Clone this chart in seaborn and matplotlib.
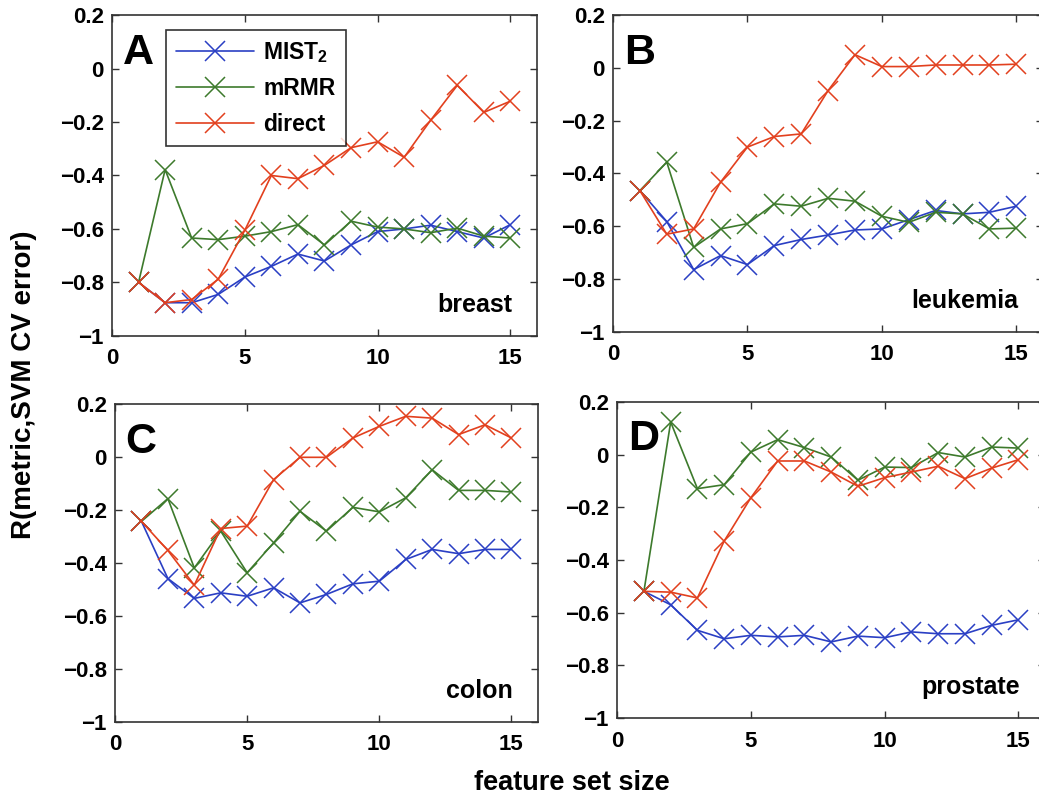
import numpy as np
import pandas as pd
import matplotlib
matplotlib.use("Agg")
import matplotlib.pyplot as plt
import seaborn as sns

sizes = list(range(1, 16))
methods = ["MIST2", "mRMR", "direct"]
legend_labels = [r"$\mathbf{MIST_2}$", "mRMR", "direct"]
datasets = ["breast", "leukemia", "colon", "prostate"]
letters = ["A", "B", "C", "D"]

breast_mist = [-0.80, -0.876, -0.876, -0.845, -0.78, -0.74, -0.694, -0.72, -0.66, -0.61, -0.60, -0.586, -0.61, -0.634, -0.584]
breast_mrmr = [-0.80, -0.378, -0.634, -0.64, -0.627, -0.61, -0.584, -0.66, -0.571, -0.593, -0.60, -0.614, -0.597, -0.627, -0.634]
breast_direct = [-0.80, -0.876, -0.864, -0.788, -0.605, -0.40, -0.412, -0.362, -0.296, -0.274, -0.332, -0.193, -0.063, -0.164, -0.122]

leuk_mist = [-0.465, -0.582, -0.764, -0.711, -0.745, -0.673, -0.65, -0.633, -0.614, -0.61, -0.575, -0.54, -0.553, -0.547, -0.524]
leuk_mrmr = [-0.465, -0.357, -0.68, -0.61, -0.59, -0.515, -0.524, -0.494, -0.505, -0.562, -0.585, -0.547, -0.553, -0.61, -0.607]
leuk_direct = [-0.465, -0.63, -0.61, -0.433, -0.30, -0.26, -0.25, -0.086, 0.05, 0.005, 0.005, 0.011, 0.011, 0.011, 0.014]

colon_mist = [-0.242, -0.458, -0.533, -0.512, -0.525, -0.493, -0.55, -0.518, -0.478, -0.468, -0.386, -0.348, -0.364, -0.348, -0.348]
colon_mrmr = [-0.242, -0.156, -0.418, -0.279, -0.436, -0.323, -0.204, -0.279, -0.189, -0.206, -0.153, -0.047, -0.125, -0.125, -0.131]
colon_direct = [-0.242, -0.352, -0.483, -0.269, -0.26, -0.084, 0.0, 0.0, 0.073, 0.117, 0.155, 0.148, 0.086, 0.123, 0.073]

prost_mist = [-0.519, -0.57, -0.667, -0.699, -0.686, -0.692, -0.686, -0.711, -0.689, -0.695, -0.673, -0.68, -0.68, -0.648, -0.627]
prost_mrmr = [-0.519, 0.124, -0.129, -0.114, 0.01, 0.057, 0.027, -0.009, -0.097, -0.047, -0.049, 0.008, -0.009, 0.029, 0.025]
prost_direct = [-0.519, -0.522, -0.544, -0.328, -0.163, -0.024, -0.024, -0.066, -0.12, -0.087, -0.066, -0.044, -0.091, -0.051, -0.019]

series = {
    "breast": [breast_mist, breast_mrmr, breast_direct],
    "leukemia": [leuk_mist, leuk_mrmr, leuk_direct],
    "colon": [colon_mist, colon_mrmr, colon_direct],
    "prostate": [prost_mist, prost_mrmr, prost_direct],
}

yticks = [-1, -0.8, -0.6, -0.4, -0.2, 0, 0.2]
ytick_labels = ["\u22121", "\u22120.8", "\u22120.6", "\u22120.4", "\u22120.2", "0", "0.2"]
xticks = [0, 5, 10, 15]
xtick_labels = ["0", "5", "10", "15"]

colors = ["#2a3fc4", "#3d7a2c", "#e2401e"]

sns.set_theme(style="white")
plt.rcParams["font.family"] = ["Liberation Sans", "DejaVu Sans"]
plt.rcParams["font.weight"] = "bold"
plt.rcParams["text.color"] = "black"
plt.rcParams["xtick.color"] = "black"
plt.rcParams["ytick.color"] = "black"
plt.rcParams["mathtext.fontset"] = "custom"
plt.rcParams["mathtext.bf"] = "Liberation Sans:bold"
plt.rcParams["mathtext.rm"] = "Liberation Sans:bold"

fig = plt.figure(figsize=(10.39, 7.94), dpi=100)
positions = [
    [0.1078, 0.577, 0.409, 0.404],
    [0.590, 0.582, 0.414, 0.399],
    [0.1107, 0.0907, 0.407, 0.400],
    [0.594, 0.0957, 0.412, 0.398],
]

for i, name in enumerate(datasets):
    ax = fig.add_axes(positions[i])
    for j, m in enumerate(methods):
        df = pd.DataFrame({"size": sizes, "R": series[name][j]})
        sns.lineplot(data=df, x="size", y="R", ax=ax, color=colors[j],
                     marker="x", markersize=15, markeredgewidth=1.1,
                     markeredgecolor=colors[j],
                     linewidth=1.2, legend=False)
    ax.set_xlim(0, 16)
    ax.set_ylim(-1, 0.2)
    ax.set_xticks(xticks)
    ax.set_xticklabels(xtick_labels)
    ax.set_yticks(yticks)
    ax.set_yticklabels(ytick_labels)
    ax.tick_params(direction="in", length=5, width=1, top=True, right=True,
                   bottom=True, left=True, labelsize=16, color="#333333",
                   labelcolor="black")
    ax.tick_params(axis="x", pad=9)
    ax.tick_params(axis="y", pad=6)
    for lab in ax.get_xticklabels() + ax.get_yticklabels():
        lab.set_fontweight("bold")
    for sp in ax.spines.values():
        sp.set_visible(True)
        sp.set_color("#333333")
        sp.set_linewidth(1.2)
    ax.set_xlabel("")
    ax.set_ylabel("")
    ax.text(0.025, 0.945, letters[i], transform=ax.transAxes, fontsize=31,
            fontweight="bold", va="top", ha="left", color="black")
    ax.text(0.941, 0.075, name, transform=ax.transAxes, fontsize=18,
            fontweight="bold", va="baseline", ha="right", color="black")
    if i == 0:
        handles = ax.get_lines()[:3]
        leg = ax.legend(handles, legend_labels, loc="upper left",
                        bbox_to_anchor=(0.127, 0.955), borderaxespad=0,
                        frameon=True, fancybox=False, edgecolor="black",
                        handlelength=3.4, borderpad=0.45, labelspacing=0.55,
                        handletextpad=0.4,
                        prop={"weight": "bold", "size": 16.5})
        leg.get_frame().set_linewidth(1.2)
        for t in leg.get_texts():
            t.set_color("black")

fig.text(0.023, 0.516, "R(metric,SVM CV error)", rotation=90, fontsize=20,
         fontweight="bold", ha="center", va="center", color="black")
fig.text(0.55, 0.014, "feature set size", fontsize=19.5, fontweight="bold",
         ha="center", va="center", color="black")

fig.savefig("out.png", dpi=100)
